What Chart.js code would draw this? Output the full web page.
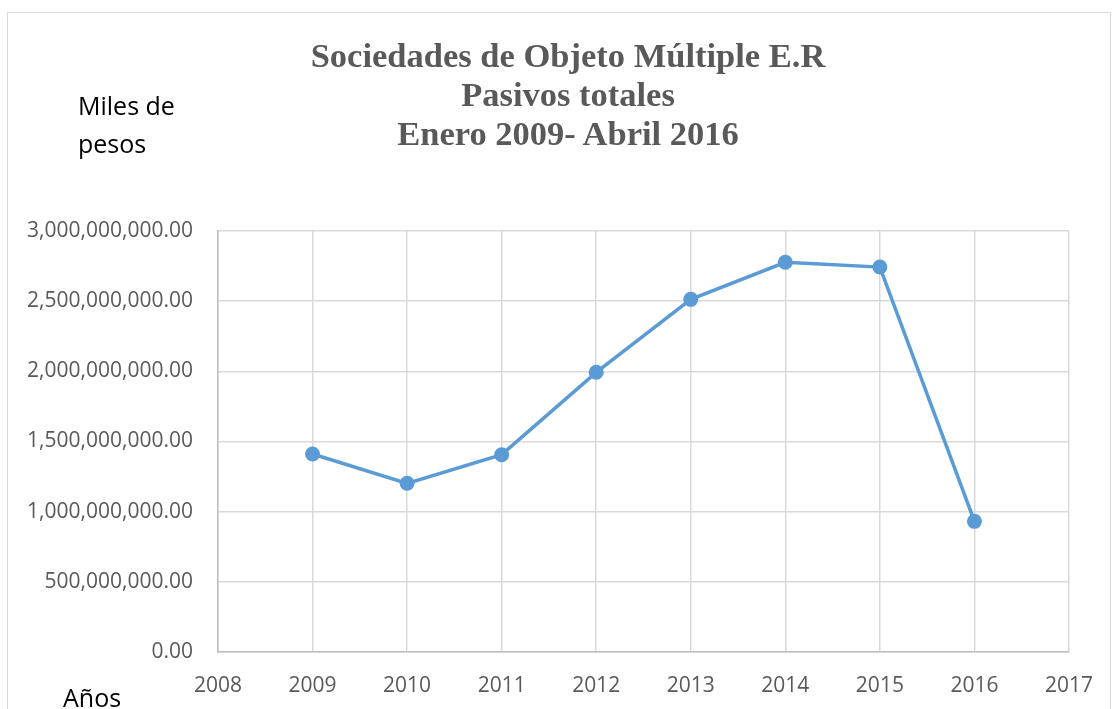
<!DOCTYPE html>
<html>
<head>
<meta charset="utf-8">
<script src="https://cdn.jsdelivr.net/npm/chart.js@4"></script>
<style>
  body { margin: 0; background: #fff; }
  #wrap { position: relative; width: 1114px; height: 709px; overflow: hidden; }
  #frame { position: absolute; left: 7px; top: 12px; width: 1104px; height: 720px; border: 1px solid #d9d9d9; box-sizing: border-box; }
  canvas { position: absolute; left: 0; top: 0; }
  .title { position: absolute; left: 268px; top: 36px; width: 600px; text-align: center;
    font: bold 34.5px "Liberation Serif", serif; line-height: 39px; color: #595959; }
  .lbl { position: absolute; font: 25px "Open Sans", sans-serif; color: #000; line-height: 38px; }
</style>
</head>
<body>
<div id="wrap">
  <div id="frame"></div>
  <canvas id="myChart" width="1114" height="709"></canvas>
  <div class="title">Sociedades de Objeto Múltiple E.R<br>Pasivos totales<br>Enero 2009- Abril 2016</div>
  <div class="lbl" style="left:78px; top:86px;">Miles de<br>pesos</div>
  <div class="lbl" style="left:63px; top:678px;">Años</div>
</div>
<script>
// data
var YEARS = [2009, 2010, 2011, 2012, 2013, 2014, 2015, 2016]
var PASIVOS = [1411000000, 1202000000, 1406000000, 1993000000, 2513000000, 2777000000, 2743000000, 931000000]
var X_MIN = 2008, X_MAX = 2017
var Y_MAX = 3000000000, Y_STEP = 500000000

var points = YEARS.map(function(y, i) { return {x: y, y: PASIVOS[i]} })

const config = {
  type: 'line',
  data: {
    datasets: [{
      data: points,
      borderColor: '#5b9bd5',
      backgroundColor: '#5b9bd5',
      borderWidth: 3.5,
      pointRadius: 7.5,
      pointBorderWidth: 0,
      tension: 0
    }]
  },
  options: {
    responsive: false,
    animation: false,
    layout: { padding: { left: 0, top: 231, right: 41, bottom: 0 } },
    plugins: { legend: { display: false }, tooltip: { enabled: false } },
    scales: {
      x: {
        type: 'linear',
        min: X_MIN, max: X_MAX,
        grid: { color: '#d9d9d9', lineWidth: 1.5, drawTicks: false },
        border: { color: '#bfbfbf', width: 1.5 },
        ticks: { stepSize: 1, padding: 21, color: '#595959',
          font: { family: 'Open Sans', size: 21 },
          callback: function(v) { return String(v) } },
        afterFit: function(s) { s.height = 57 }
      },
      y: {
        min: 0, max: Y_MAX,
        grid: { color: '#d9d9d9', lineWidth: 1.5, drawTicks: false },
        border: { color: '#bfbfbf', width: 1.5 },
        ticks: { stepSize: Y_STEP, padding: 25, color: '#595959',
          font: { family: 'Open Sans', size: 21 },
          callback: function(v) { return v.toLocaleString('en-US', {minimumFractionDigits: 2, maximumFractionDigits: 2}) } },
        afterFit: function(s) { s.width = 218 }
      }
    }
  }
}
var myChart = new Chart(document.getElementById('myChart'), config)
</script>
</body>
</html>
